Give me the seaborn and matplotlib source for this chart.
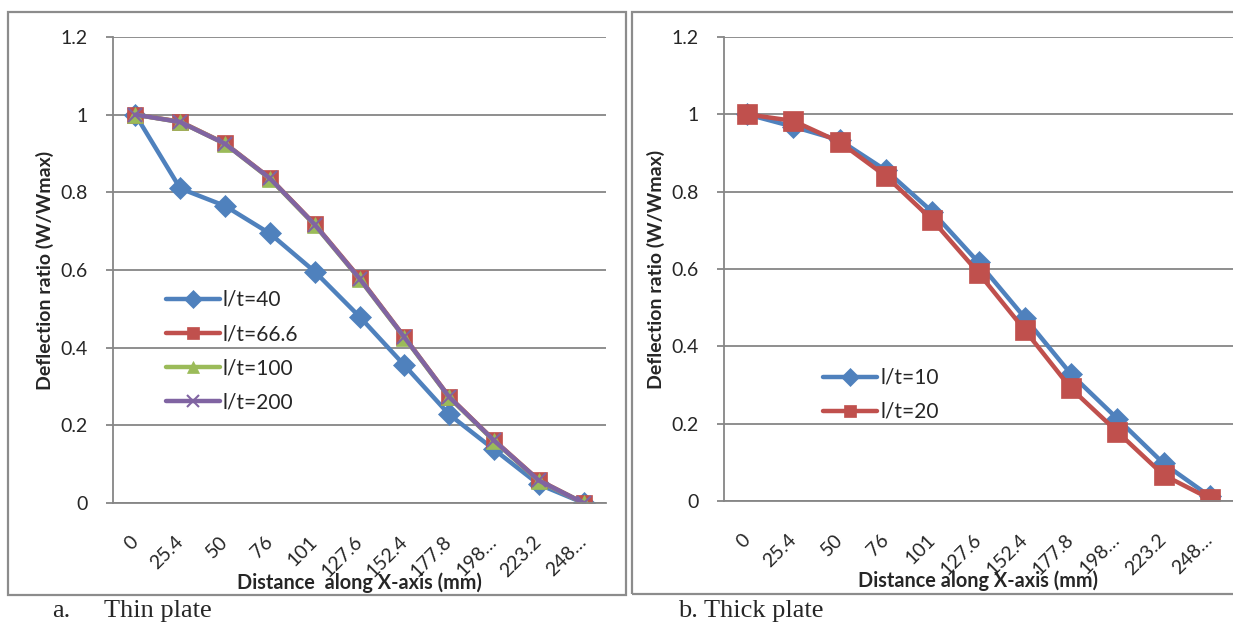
import numpy as np
import pandas as pd
import matplotlib
matplotlib.use("Agg")
import matplotlib.pyplot as plt
from matplotlib.patches import Rectangle
import seaborn as sns

# data
distance = ["0", "25.4", "50", "76", "101", "127.6", "152.4", "177.8", "198…", "223.2", "248…"]

thin_lt40 = [1.0, 0.81, 0.765, 0.694, 0.596, 0.48, 0.355, 0.228, 0.138, 0.048, 0.0]
thin_lt666 = [1.0, 0.982, 0.926, 0.837, 0.718, 0.58, 0.428, 0.274, 0.162, 0.059, 0.0]
thin_lt100 = [1.0, 0.981, 0.925, 0.835, 0.716, 0.577, 0.426, 0.272, 0.16, 0.057, 0.0]
thin_lt200 = [1.0, 0.981, 0.925, 0.836, 0.717, 0.578, 0.427, 0.273, 0.161, 0.058, 0.0]

thick_lt10 = [1.0, 0.968, 0.933, 0.855, 0.748, 0.617, 0.474, 0.328, 0.213, 0.097, 0.012]
thick_lt20 = [1.0, 0.983, 0.928, 0.840, 0.727, 0.590, 0.442, 0.291, 0.179, 0.067, 0.006]

thin_series = [
    ("l/t=40", thin_lt40, "#4F81BD", "D", 11),
    ("l/t=66.6", thin_lt666, "#C0504D", "s", 12),
    ("l/t=100", thin_lt100, "#9BBB59", "^", 11),
    ("l/t=200", thin_lt200, "#8064A2", "x", 10),
]
thick_series = [
    ("l/t=10", thick_lt10, "#4F81BD", "D", 11),
    ("l/t=20", thick_lt20, "#C0504D", "s", 14),
]

sns.set_theme(style="white")
plt.rcParams["font.family"] = ["Lato", "DejaVu Sans"]

fig = plt.figure(figsize=(12.33, 6.23), dpi=100)
W, H = 1233, 623


def box(x0, y0, x1, y1):
    # convert pixel box (top-left origin) to figure fraction
    return [x0 / W, 1 - y1 / H, (x1 - x0) / W, (y1 - y0) / H]


ax1 = fig.add_axes(box(113, 37, 606, 503))
ax2 = fig.add_axes(box(724, 37, 1233, 501))

grid_col = "#868686"


def draw(ax, series, xlabel, legend_pos):
    for name, vals, col, mk, ms in series:
        df = pd.DataFrame({"x": distance, "y": vals})
        sns.lineplot(data=df, x="x", y="y", ax=ax, sort=False, estimator=None,
                     color=col, linewidth=3.2, marker=mk, markersize=ms,
                     markeredgecolor=col, markeredgewidth=1.5 if mk == "x" else 0.5,
                     label=name)
    ax.set_xlim(-0.5, len(distance) - 0.5)
    ax.set_ylim(0, 1.2)
    ax.set_yticks(np.arange(0, 1.21, 0.2))
    ax.set_yticklabels(["0", "0.2", "0.4", "0.6", "0.8", "1", "1.2"])
    ax.yaxis.grid(True, color=grid_col, linewidth=1.3)
    ax.set_axisbelow(True)
    for s in ["top", "right"]:
        ax.spines[s].set_visible(False)
    for s in ["left", "bottom"]:
        ax.spines[s].set_color(grid_col)
        ax.spines[s].set_linewidth(1.3)
    ax.tick_params(axis="y", which="major", direction="out", length=5, width=1.3,
                   color=grid_col, labelsize=14, pad=13, left=True)
    ax.tick_params(axis="x", length=0, labelsize=14, pad=26)
    for lab in ax.get_xticklabels():
        lab.set_rotation(45)
        lab.set_ha("right")
        lab.set_va("center")
        lab.set_rotation_mode("anchor")
    ax.set_xlabel(xlabel, fontsize=14.3, fontweight="bold", labelpad=-6)
    ax.set_ylabel("Deflection ratio (W/Wmax)", fontsize=14, fontweight="bold", labelpad=5)
    leg = ax.legend(loc="upper left", bbox_to_anchor=legend_pos, frameon=False,
                    fontsize=15, handlelength=2.6, handletextpad=0.15,
                    labelspacing=0.68, borderaxespad=0)
    for h in leg.legend_handles:
        h.set_markersize(9)


draw(ax1, thin_series, "Distance  along X-axis (mm)", (0.09, 0.475))
draw(ax2, thick_series, "Distance along X-axis (mm)", (0.178, 0.305))

# panel frames
fig.add_artist(Rectangle((8 / W, 1 - 595 / H), (626 - 8) / W, (595 - 12) / H,
                         transform=fig.transFigure, fill=False,
                         edgecolor="#8c8c8c", linewidth=1.6))
fig.add_artist(Rectangle((632 / W, 1 - 594 / H), (1240 - 632) / W, (594 - 12) / H,
                         transform=fig.transFigure, fill=False,
                         edgecolor="#8c8c8c", linewidth=1.6))

# captions
fig.text(52 / W, 1 - 611 / H, "a.", family="Liberation Serif", fontsize=19, va="center")
fig.text(104 / W, 1 - 611 / H, "Thin plate", family="Liberation Serif", fontsize=19, va="center")
fig.text(678 / W, 1 - 611 / H, "b. Thick plate", family="Liberation Serif", fontsize=19, va="center")

fig.savefig("out.png", dpi=100)
